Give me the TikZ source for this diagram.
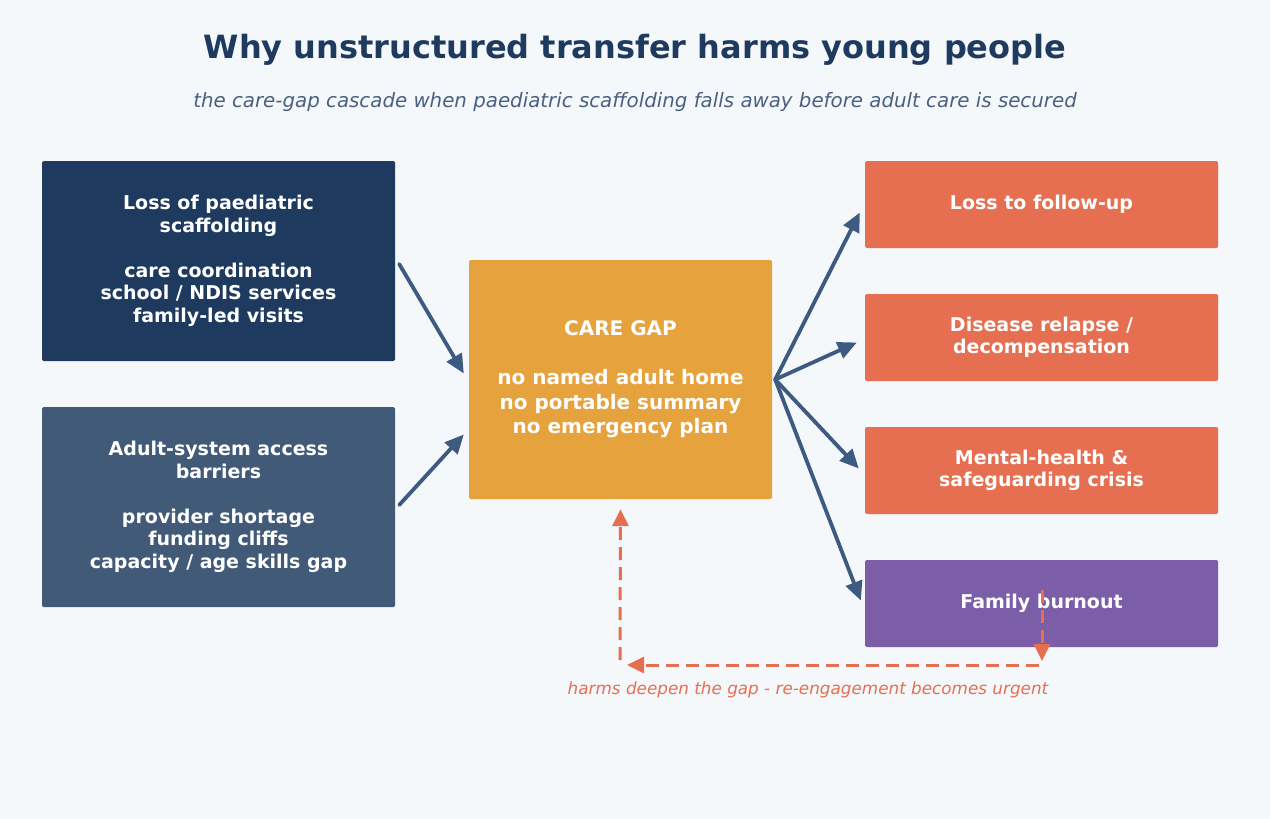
\documentclass[tikz,border=0pt]{standalone}
\usepackage{fontspec}
\setmainfont{DejaVu Sans}
\usepackage{tikz}
\usetikzlibrary{arrows.meta,positioning}
\definecolor{navy}{HTML}{1F3A5F}
\definecolor{slate}{HTML}{415A77}
\definecolor{amber}{HTML}{E6A23C}
\definecolor{coral}{HTML}{E76F51}
\definecolor{violet}{HTML}{7B5EA7}
\definecolor{steel}{HTML}{3D5A80}
\definecolor{subgrey}{HTML}{4A6080}
\definecolor{paper}{HTML}{F4F8FB}
\tikzset{
  causebox/.style={
    rectangle, fill=#1, rounded corners=1.5pt,
    minimum width=353pt, minimum height=200pt,
    text=white, align=center, inner sep=4pt,
    font=\bfseries\fontsize{19}{22.5}\selectfont
  },
  causebox/.default=navy,
  gapbox/.style={
    rectangle, fill=amber, rounded corners=1.5pt,
    minimum width=303pt, minimum height=239pt,
    text=white, align=center, inner sep=4pt,
    font=\bfseries\fontsize{20}{24.5}\selectfont
  },
  harmbox/.style={
    rectangle, fill=#1, rounded corners=1.5pt,
    minimum width=353pt, minimum height=87pt,
    text=white, align=center, inner sep=4pt,
    font=\bfseries\fontsize{19}{22.5}\selectfont
  },
  harmbox/.default=coral,
  flowarrow/.style={
    -{Triangle[length=19pt,width=17pt]}, line width=3.8pt, color=steel,
    line cap=round
  },
  looparrow/.style={
    -{Triangle[length=17pt,width=16pt]}, line width=3pt, color=coral,
    dash pattern=on 13pt off 7pt
  },
}

\begin{document}
\begin{tikzpicture}[x=1pt, y=-1pt]

% page
\fill[paper] (0,0) rectangle (1270,819);
\useasboundingbox (0,0) rectangle (1270,819);

% Title
\node[text=navy, font=\bfseries\fontsize{32}{38}\selectfont] (title) at (635,50)
  {Why unstructured transfer harms young people};
\node[text=subgrey, font=\itshape\fontsize{19.8}{23}\selectfont] (subtitle) at (635,102)
  {the care-gap cascade when paediatric scaffolding falls away before adult care is secured};

% Causes
\node[causebox] (paed) at (218.5,261)
  {Loss of paediatric\\scaffolding\\[22.5pt]care coordination\\school / NDIS services\\family-led visits};
\node[causebox=slate] (adult) at (218.5,507)
  {Adult-system access\\barriers\\[22.5pt]provider shortage\\funding cliffs\\capacity / age skills gap};

% Care gap
\node[gapbox] (gap) at (620.5,379.5)
  {CARE GAP\\[24.5pt]no named adult home\\no portable summary\\no emergency plan};

% Harms
\node[harmbox] (lost) at (1041.5,204.5) {Loss to follow-up};
\node[harmbox] (relapse) at (1041.5,337.5) {Disease relapse /\\decompensation};
\node[harmbox] (crisis) at (1041.5,470.5) {Mental-health \&\\safeguarding crisis};
\node[harmbox=violet] (burnout) at (1041.5,603.5) {Family burnout};

% Into the gap
\draw[flowarrow] ([xshift=4pt,yshift=-3pt]paed.east) -- ([xshift=-5pt,yshift=6pt]gap.west);
\draw[flowarrow] ([xshift=4pt,yshift=2pt]adult.east) -- ([xshift=-5pt,yshift=-55pt]gap.west);

% Out to the harms
\draw[flowarrow] ([xshift=3pt]gap.east) -- ([xshift=-5pt,yshift=-8pt]lost.west);
\draw[flowarrow] ([xshift=3pt]gap.east) -- ([xshift=-8pt,yshift=-5pt]relapse.west);
\draw[flowarrow] ([xshift=3pt]gap.east) -- ([xshift=-6pt,yshift=2pt]crisis.west);
\draw[flowarrow] ([xshift=3pt]gap.east) -- ([xshift=-4pt,yshift=3pt]burnout.west);

% Feedback loop
\coordinate (loopR) at (1042,665);
\coordinate (loopL) at (620,665);
\draw[looparrow] (1042,590) -- ([yshift=4pt]loopR);
\draw[looparrow] ([xshift=-3pt]loopR) -- ([xshift=7pt]loopL);
\draw[looparrow] ([yshift=5pt]loopL) -- ([yshift=-10pt]gap.south);
\node[text=coral, font=\itshape\fontsize{16.8}{20}\selectfont] (looplabel) at (808,690)
  {harms deepen the gap - re-engagement becomes urgent};

\end{tikzpicture}
\end{document}
